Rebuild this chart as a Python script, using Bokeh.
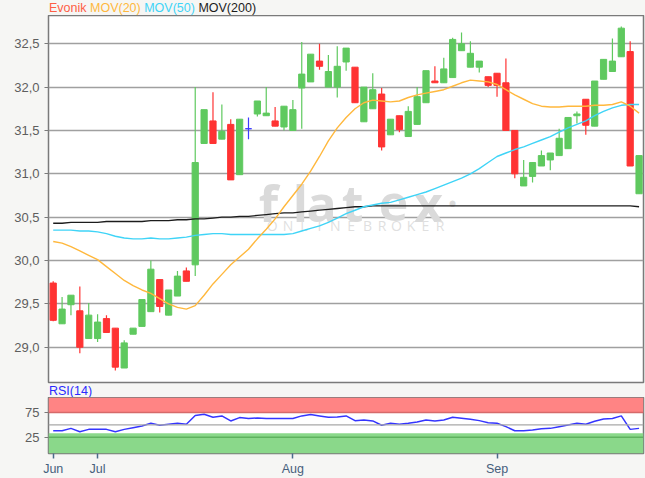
from bokeh.plotting import figure
from bokeh.layouts import column
from bokeh.models import (Range1d, FixedTicker, Label, BoxAnnotation, Span, Div,
                          GlobalInlineStyleSheet)
from bokeh.embed import file_html
from bokeh.resources import INLINE

# ---------------- data ----------------
days = list(range(67))
opens = [29.74, 29.27, 29.49, 29.42, 29.10, 29.10, 29.33, 29.22, 28.76, 29.15,
         29.24, 29.41, 29.78, 29.37, 29.59, 29.88, 29.95, 31.35, 31.61, 31.40,
         31.57, 30.99, 31.52, 31.69, 31.67, 31.61, 31.54, 31.50, 31.99, 32.06,
         32.30, 32.00, 32.00, 32.29, 32.23, 31.60, 31.75, 31.92, 31.45, 31.67,
         31.43, 31.57, 31.82, 32.07, 32.05, 32.11, 32.42, 32.23, 32.23, 32.12,
         32.16, 32.05, 31.50, 30.86, 30.97, 31.09, 31.16, 31.21, 31.29, 31.67,
         31.86, 31.55, 32.09, 32.18, 32.35, 32.41, 30.77]
highs = [29.76, 29.58, 29.60, 29.70, 29.51, 29.38, 29.37, 29.22, 29.08, 29.22,
         29.55, 30.00, 29.78, 29.66, 29.88, 29.92, 32.00, 31.74, 31.94, 31.80,
         31.63, 31.63, 31.65, 31.84, 32.00, 31.77, 31.78, 31.85, 32.52, 32.38,
         32.50, 32.37, 32.47, 32.45, 32.23, 32.00, 32.16, 31.99, 31.63, 31.67,
         31.78, 32.00, 32.19, 32.24, 32.34, 32.57, 32.63, 32.53, 32.30, 32.12,
         32.16, 32.33, 31.50, 31.16, 31.13, 31.27, 31.24, 31.52, 31.65, 31.72,
         31.86, 32.07, 32.32, 32.56, 32.70, 32.53, 31.21]
lows = [29.30, 29.27, 29.37, 28.93, 29.10, 29.06, 29.17, 28.73, 28.76, 29.15,
        29.24, 29.41, 29.40, 29.37, 29.59, 29.76, 29.82, 31.35, 31.35, 31.40,
        30.93, 30.99, 31.40, 31.66, 31.67, 31.55, 31.50, 31.50, 31.52, 32.06,
        32.20, 32.00, 31.88, 32.19, 31.82, 31.60, 31.75, 31.27, 31.45, 31.48,
        31.43, 31.57, 31.82, 32.05, 32.05, 32.11, 32.42, 32.23, 32.17, 32.00,
        31.89, 31.50, 30.95, 30.86, 30.90, 31.09, 31.04, 31.21, 31.29, 31.58,
        31.45, 31.55, 32.09, 32.18, 32.35, 31.09, 30.77]
closes = [29.31, 29.44, 29.60, 29.00, 29.37, 29.29, 29.17, 28.77, 29.05, 29.22,
          29.55, 29.90, 29.47, 29.66, 29.82, 29.76, 31.13, 31.74, 31.35, 31.49,
          30.93, 31.63, 31.52, 31.84, 31.70, 31.55, 31.78, 31.74, 32.15, 32.38,
          32.24, 32.18, 32.24, 32.45, 31.82, 32.00, 31.97, 31.31, 31.63, 31.51,
          31.72, 31.89, 32.19, 32.05, 32.21, 32.55, 32.50, 32.39, 32.30, 32.02,
          32.02, 31.50, 31.00, 30.96, 31.13, 31.21, 31.24, 31.41, 31.65, 31.69,
          31.56, 32.07, 32.32, 32.30, 32.68, 31.09, 31.21]
mov20 = [30.22, 30.20, 30.16, 30.11, 30.06, 30.01, 29.93, 29.85, 29.77, 29.71,
         29.66, 29.62, 29.56, 29.50, 29.46, 29.44, 29.48, 29.60, 29.73, 29.84,
         29.95, 30.04, 30.13, 30.25, 30.36, 30.48, 30.62, 30.75, 30.88, 31.03,
         31.20, 31.38, 31.53, 31.65, 31.75, 31.82, 31.85, 31.84, 31.83, 31.84,
         31.88, 31.91, 31.93, 31.95, 31.97, 32.01, 32.05, 32.08, 32.07, 32.06,
         32.03, 31.97, 31.91, 31.86, 31.81, 31.78, 31.77, 31.77, 31.78, 31.78,
         31.78, 31.79, 31.79, 31.80, 31.83, 31.78, 31.70]
mov50 = [30.35, 30.35, 30.35, 30.34, 30.34, 30.33, 30.31, 30.28, 30.26, 30.25,
         30.25, 30.26, 30.25, 30.25, 30.26, 30.27, 30.29, 30.30, 30.31, 30.31,
         30.30, 30.30, 30.30, 30.30, 30.30, 30.30, 30.30, 30.31, 30.34, 30.37,
         30.40, 30.44, 30.49, 30.54, 30.58, 30.62, 30.64, 30.66, 30.67, 30.70,
         30.73, 30.76, 30.79, 30.83, 30.87, 30.91, 30.95, 31.00, 31.06, 31.13,
         31.20, 31.24, 31.28, 31.31, 31.35, 31.39, 31.43, 31.48, 31.53, 31.57,
         31.61, 31.67, 31.72, 31.76, 31.79, 31.80, 31.80]
mov200 = [30.43, 30.43, 30.44, 30.44, 30.44, 30.44, 30.45, 30.45, 30.45, 30.45,
          30.45, 30.46, 30.46, 30.46, 30.47, 30.47, 30.48, 30.48, 30.49, 30.50,
          30.50, 30.51, 30.51, 30.52, 30.53, 30.54, 30.55, 30.55, 30.56, 30.57,
          30.58, 30.59, 30.60, 30.61, 30.62, 30.62, 30.63, 30.63, 30.63, 30.63,
          30.63, 30.63, 30.63, 30.63, 30.63, 30.63, 30.63, 30.63, 30.63, 30.63,
          30.63, 30.63, 30.63, 30.63, 30.63, 30.63, 30.63, 30.63, 30.63, 30.63,
          30.63, 30.63, 30.63, 30.63, 30.63, 30.63, 30.62]
rsi = [38.3, 38.3, 43.0, 36.3, 41.0, 41.0, 41.0, 36.3, 41.0, 44.4,
       47.8, 53.2, 49.2, 51.2, 53.2, 51.2, 68.6, 71.3, 65.3, 68.0,
       57.9, 64.6, 62.6, 63.9, 62.6, 62.6, 62.6, 62.6, 68.0, 70.6,
       68.0, 65.3, 66.0, 68.0, 58.5, 59.9, 57.9, 49.2, 53.2, 51.2,
       53.2, 55.8, 59.9, 57.9, 59.9, 65.3, 63.3, 61.3, 58.5, 54.4,
       53.2, 46.4, 38.3, 38.3, 39.7, 42.4, 43.0, 46.4, 49.8, 53.2,
       51.2, 57.2, 61.9, 62.6, 68.0, 41.0, 43.0]

month_ticks = [0, 5, 27, 50]
month_labels = ["Jun", "Jul", "Aug", "Sep"]
price_ticks = [29.0, 29.5, 30.0, 30.5, 31.0, 31.5, 32.0, 32.5]
price_labels = ["29,0", "29,5", "30,0", "30,5", "31,0", "31,5", "32,0", "32,5"]
rsi_ticks = [25, 75]
rsi_labels = ["25", "75"]
legend_names = ["Evonik", "MOV(20)", "MOV(50)", "MOV(200)"]

# ---------------- styling ----------------
FONT = "Liberation Sans"
PAGE_BG = "#f6f6f4"
GREEN = "#5fc95f"
RED = "#ff3333"
DOJI = "#3c3cff"
C20 = "#ffb83d"
C50 = "#3fd4f7"
C200 = "#1c1c1c"
legend_colors = ["#ff5e45", C20, C50, "#1c1c1c"]

colors = [GREEN if c > o else (RED if c < o else DOJI) for o, c in zip(opens, closes)]
body_top = [max(o, c) for o, c in zip(opens, closes)]
body_bot = [min(o, c) for o, c in zip(opens, closes)]

x_range = Range1d(-0.53, 66.5)

# ---------------- legend line above the chart ----------------
legend_html = "&nbsp;".join(
    '<span style="color:%s">%s</span>' % (c, n) for n, c in zip(legend_names, legend_colors))
legend_div = Div(text=legend_html, width=645, height=15, margin=(0, 0, 0, 0),
                 styles={"font-family": FONT, "font-size": "12.5px", "line-height": "14px",
                         "padding-left": "49px", "padding-top": "1px",
                         "white-space": "nowrap", "background-color": PAGE_BG})

# ---------------- main price panel ----------------
p1 = figure(width=645, height=370, x_range=x_range, y_range=Range1d(28.593, 32.826),
            output_backend="svg", toolbar_location=None, x_axis_location=None,
            min_border_left=48, min_border_right=2, min_border_top=0, min_border_bottom=3)
p1.background_fill_color = "white"
p1.border_fill_color = PAGE_BG
p1.outline_line_color = "#7a7a7a"
p1.outline_line_width = 1.5
p1.xgrid.visible = False
p1.ygrid.ticker = FixedTicker(ticks=price_ticks)
p1.ygrid.grid_line_color = "#a0a0a0"
p1.ygrid.grid_line_width = 1.3
ax = p1.yaxis[0]
ax.ticker = FixedTicker(ticks=price_ticks)
ax.major_label_overrides = dict(zip(price_ticks, price_labels))
ax.major_tick_out = 4
ax.major_tick_in = 0
ax.minor_tick_line_color = None
ax.axis_line_color = None
ax.major_tick_line_color = "#7a7a7a"
ax.major_label_text_font = FONT
ax.major_label_text_font_size = "13px"
ax.major_label_text_color = "#5e5e5e"
ax.major_label_standoff = 5

# watermark (screen x measured from the left of the frame)
wm_letters = ["f", "l", "a", "t", "e", "x", "•"]
wm_x = [220, 252, 273, 304, 345, 380, 404]
for ch, xx in zip(wm_letters, wm_x):
    p1.add_layout(Label(x=xx, y=30.66, x_units="screen", y_units="data", text=ch,
                        text_font="Open Sans", text_font_size="50px" if ch != "•" else "28px",
                        text_font_style="bold" if ch != "•" else "normal",
                        text_color="#dadada", text_align="center", text_baseline="alphabetic",
                        level="underlay"))
sub_letters = list("ONLINEBROKER")
sub_x = [223.7, 239.5, 255.3, 271.0, 286.8, 302.6, 319.0, 333.5, 348.0, 362.5, 377.0, 391.5]
for ch, xx in zip(sub_letters, sub_x):
    p1.add_layout(Label(x=xx, y=30.40, x_units="screen", y_units="data", text=ch,
                        text_font="Open Sans", text_font_size="14px",
                        text_color="#dfdfdf", text_align="center", text_baseline="middle",
                        level="underlay"))

# candles
p1.segment(x0=days, y0=lows, x1=days, y1=highs, line_color=colors, line_width=1.2)
p1.vbar(x=days, width=0.7, top=body_top, bottom=body_bot,
        fill_color=colors, line_color=colors, line_width=1)

# moving averages
p1.line(days, mov200, line_color=C200, line_width=1.3)
p1.line(days, mov50, line_color=C50, line_width=1.4)
p1.line(days, mov20, line_color=C20, line_width=1.4)

# ---------------- RSI title ----------------
rsi_div = Div(text='<span style="color:#2a2aff">RSI(14)</span>', width=645, height=12,
              margin=(0, 0, 0, 0),
              styles={"font-family": FONT, "font-size": "12.5px", "line-height": "12px",
                      "padding-left": "49px", "white-space": "nowrap",
                      "background-color": PAGE_BG})

# ---------------- RSI panel ----------------
p2 = figure(width=645, height=81, x_range=x_range, y_range=Range1d(-7.3, 104.8),
            output_backend="svg", toolbar_location=None,
            min_border_left=48, min_border_right=2, min_border_top=0, min_border_bottom=25)
p2.background_fill_color = "white"
p2.border_fill_color = PAGE_BG
p2.outline_line_color = "#7a7a7a"
p2.outline_line_width = 1.5
p2.xgrid.visible = False
p2.ygrid.visible = False

p2.add_layout(BoxAnnotation(bottom=75, fill_color="#ff8484", fill_alpha=1, line_color=None,
                            level="underlay"))
p2.add_layout(BoxAnnotation(top=33, fill_color="#8ad88a", fill_alpha=1, line_color=None,
                            level="underlay"))
p2.add_layout(Span(location=75, dimension="width", line_color="#d66a6a", line_width=1.5))
p2.add_layout(Span(location=25, dimension="width", line_color="#5eb25e", line_width=1.5))
p2.add_layout(Span(location=50, dimension="width", line_color="#a8a8a8", line_width=1.3))
p2.line(days, rsi, line_color="#3535ff", line_width=1.5)

ry = p2.yaxis[0]
ry.ticker = FixedTicker(ticks=rsi_ticks)
ry.major_label_overrides = dict(zip(rsi_ticks, rsi_labels))
ry.major_tick_out = 4
ry.major_tick_in = 0
ry.minor_tick_line_color = None
ry.axis_line_color = None
ry.major_tick_line_color = "#7a7a7a"
ry.major_label_text_font = FONT
ry.major_label_text_font_size = "13px"
ry.major_label_text_color = "#5e5e5e"
ry.major_label_standoff = 5

rx = p2.xaxis[0]
rx.ticker = FixedTicker(ticks=month_ticks)
rx.major_label_overrides = dict(zip(month_ticks, month_labels))
rx.major_tick_out = 5
rx.major_tick_in = 0
rx.minor_tick_line_color = None
rx.axis_line_color = None
rx.major_tick_line_color = "#4a6a8a"
rx.major_tick_line_width = 1.5
rx.major_label_text_font = FONT
rx.major_label_text_font_size = "12.5px"
rx.major_label_text_color = "#46607c"
rx.major_label_text_align = "left"
rx.major_label_standoff = 3

layout = column(legend_div, p1, rsi_div, p2, spacing=0,
                stylesheets=[GlobalInlineStyleSheet(
                    css="html,body{margin:0;padding:0;background:#f6f6f4;overflow:hidden;}")])

open("out.html", "w").write(file_html(layout, INLINE))
